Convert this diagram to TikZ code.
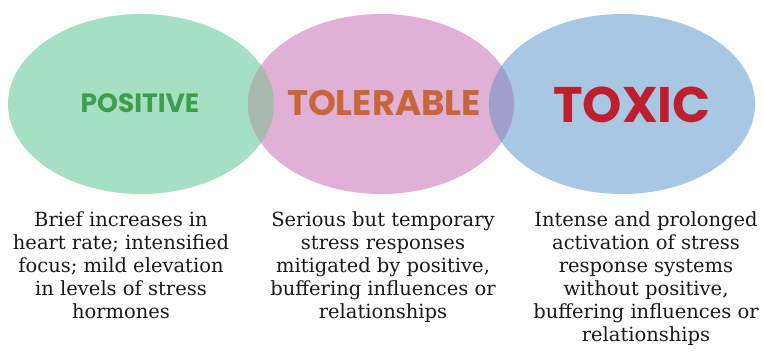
\documentclass[tikz,border=0pt]{standalone}
\usepackage{fontspec}
\setmainfont{DejaVu Serif}
\newfontfamily\headfont{Poppins}
\definecolor{posfill}{HTML}{A5E0C3}
\definecolor{tolfill}{HTML}{E0B0D6}
\definecolor{toxfill}{HTML}{A8C7E2}
\definecolor{lensgp}{HTML}{A8B9AA}
\definecolor{lenspb}{HTML}{A29ECB}
\definecolor{postext}{HTML}{3E9E4C}
\definecolor{toltext}{HTML}{C8663A}
\definecolor{toxtext}{HTML}{BE1E2D}

\begin{document}
\begin{tikzpicture}[
    x=1pt, y=-1pt,
    blob/.style={x radius=133, y radius=90},
    head/.style={font=\headfont\bfseries, inner sep=0pt},
    desc/.style={align=center, anchor=north, inner sep=0pt, text=black!90,
                 font=\fontsize{19.5}{23}\selectfont}
    ]
    \useasboundingbox (0,0) rectangle (763,354);

    % the three circles
    \fill [posfill] (141,104) ellipse [blob];
    \fill [tolfill] (381,104) ellipse [blob];
    \fill [toxfill] (622,104) ellipse [blob];

    % overlaps
    \begin{scope}
        \clip (141,104) ellipse [blob];
        \fill [lensgp] (381,104) ellipse [blob];
    \end{scope}
    \begin{scope}
        \clip (381,104) ellipse [blob];
        \fill [lenspb] (622,104) ellipse [blob];
    \end{scope}

    \node [head, text=postext, font=\headfont\bfseries\fontsize{26.5}{26.5}\selectfont] (pos) at (140,103) {POSITIVE};
    \node [head, text=toltext, font=\headfont\bfseries\fontsize{35.5}{35.5}\selectfont] (tol) at (384,103) {TOLERABLE};
    \node [head, text=toxtext, font=\headfont\bfseries\fontsize{50}{50}\selectfont] (tox) at (632,105) {TOXIC};

    \node [desc] (posdesc) at (121,211) {Brief increases in\\heart rate; intensified\\focus; mild elevation\\in levels of stress\\hormones};
    \node [desc] (toldesc) at (383,211) {Serious but temporary\\stress responses\\mitigated by positive,\\buffering influences or\\relationships};
    \node [desc] (toxdesc) at (646,211) {Intense and prolonged\\activation of stress\\response systems\\without positive,\\buffering influences or\\relationships};
\end{tikzpicture}
\end{document}
